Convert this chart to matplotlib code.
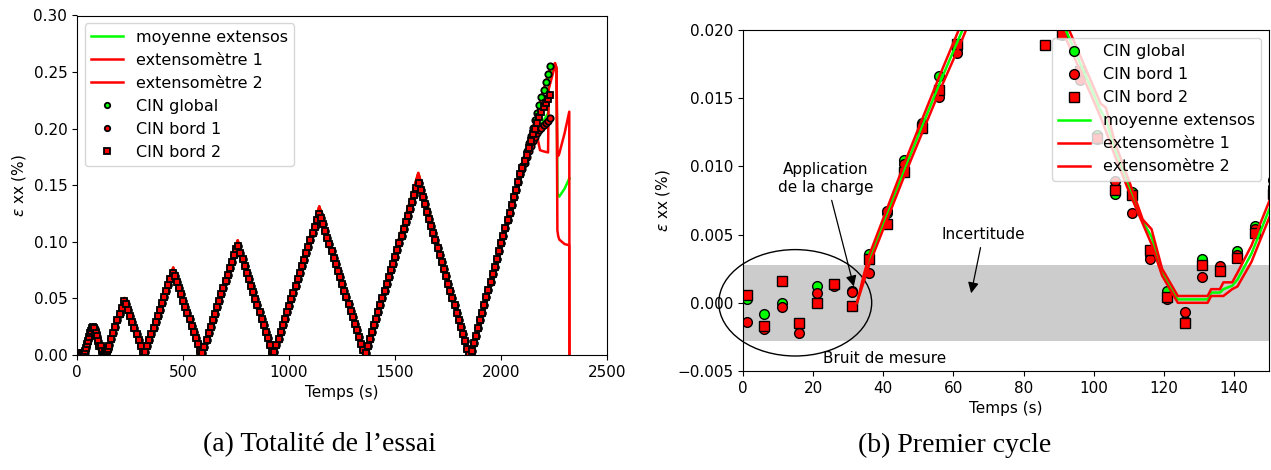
import numpy as np
import matplotlib
matplotlib.use("Agg")
import matplotlib.pyplot as plt
from matplotlib.patches import Ellipse

# --- CIN (correlation d'images), une image toutes les 5 s puis 10 s ---
# premier cycle (t = 1, 6, ..., 151 s)
cin_global_debut = [0.0003, -0.0008, 0.0000, -0.0016, 0.0012, 0.0013, 0.0009, 0.0036, 0.0066, 0.0105,
                    0.0132, 0.0166, 0.0186, 0.0217, 0.0240, 0.0250, 0.0244, 0.0229, 0.0199, 0.0168,
                    0.0123, 0.0080, 0.0081, 0.0035, 0.0009, -0.0013, 0.0032, 0.0025, 0.0038, 0.0056, 0.0090]
cin_bord1_debut = [-0.0014, -0.0019, -0.0003, -0.0022, 0.0007, 0.0012, 0.0008, 0.0022, 0.0067, 0.0102,
                   0.0130, 0.0151, 0.0183, 0.0214, 0.0238, 0.0248, 0.0242, 0.0227, 0.0196, 0.0163,
                   0.0120, 0.0089, 0.0066, 0.0032, 0.0003, -0.0007, 0.0019, 0.0027, 0.0035, 0.0054, 0.0085]
cin_bord2_debut = [0.0006, -0.0017, 0.0016, -0.0015, 0.0000, 0.0014, -0.0002, 0.0032, 0.0058, 0.0096,
                   0.0128, 0.0156, 0.0190, 0.0212, 0.0236, 0.0246, 0.0240, 0.0189, 0.0197, 0.0170,
                   0.0121, 0.0083, 0.0079, 0.0039, 0.0004, -0.0015, 0.0028, 0.0023, 0.0033, 0.0051, 0.0080]

# cycles suivants, identiques pour les trois mesures (t = 161, 171, ... s)
cin_commun = [0.0140, 0.0195, 0.0251, 0.0307, 0.0363, 0.0419, 0.0474, 0.0453, 0.0400, 0.0347,
              0.0293, 0.0240, 0.0187, 0.0134, 0.0080, 0.0027,
              0.0027, 0.0080, 0.0134, 0.0188, 0.0241, 0.0295, 0.0348, 0.0402, 0.0456, 0.0509,
              0.0563, 0.0616, 0.0670, 0.0724,
              0.0701, 0.0646, 0.0591, 0.0536, 0.0481, 0.0425, 0.0370, 0.0315, 0.0260, 0.0205,
              0.0149, 0.0094, 0.0039,
              0.0017, 0.0075, 0.0132, 0.0190, 0.0248, 0.0305, 0.0363, 0.0421, 0.0478, 0.0536,
              0.0593, 0.0651, 0.0709, 0.0766, 0.0824, 0.0881, 0.0939,
              0.0962, 0.0904, 0.0846, 0.0788, 0.0729, 0.0671, 0.0613, 0.0554, 0.0496, 0.0438,
              0.0380, 0.0321, 0.0263, 0.0205, 0.0146, 0.0088, 0.0030,
              0.0029, 0.0087, 0.0145, 0.0203, 0.0261, 0.0319, 0.0377, 0.0436, 0.0494, 0.0552,
              0.0610, 0.0668, 0.0726, 0.0784, 0.0842, 0.0900, 0.0958, 0.1016, 0.1074, 0.1132,
              0.1190, 0.1248,
              0.1213, 0.1155, 0.1096, 0.1037, 0.0979, 0.0920, 0.0861, 0.0803, 0.0744, 0.0686,
              0.0627, 0.0568, 0.0510, 0.0451, 0.0393, 0.0334, 0.0275, 0.0217, 0.0158, 0.0100,
              0.0041,
              0.0018, 0.0079, 0.0140, 0.0200, 0.0261, 0.0322, 0.0382, 0.0443, 0.0504, 0.0565,
              0.0625, 0.0686, 0.0747, 0.0807, 0.0868, 0.0929, 0.0989, 0.1050, 0.1111, 0.1172,
              0.1232, 0.1293, 0.1354, 0.1414, 0.1475,
              0.1524, 0.1460, 0.1396, 0.1332, 0.1268, 0.1205, 0.1141, 0.1077, 0.1013, 0.0949,
              0.0886, 0.0822, 0.0758, 0.0694, 0.0630, 0.0567, 0.0503, 0.0439, 0.0375, 0.0311,
              0.0248, 0.0184, 0.0120, 0.0056, 0.0000,
              0.0034, 0.0102, 0.0170, 0.0238, 0.0306, 0.0374, 0.0442, 0.0510, 0.0578, 0.0646,
              0.0714, 0.0782, 0.0850, 0.0918, 0.0986, 0.1054, 0.1122, 0.1190, 0.1258, 0.1326,
              0.1394, 0.1462, 0.1530, 0.1598]

# fin d'essai (t = 2101, ..., 2231 s)
cin_global_fin = [0.1666, 0.1734, 0.1802, 0.1870, 0.1938, 0.2006, 0.2074, 0.2142, 0.2210, 0.2278,
                  0.2346, 0.2414, 0.2482, 0.2550]
cin_bord1_fin = [0.1640, 0.1700, 0.1750, 0.1800, 0.1850, 0.1890, 0.1930, 0.1960, 0.1990, 0.2010,
                 0.2030, 0.2050, 0.2070, 0.2090]
cin_bord2_fin = [0.1650, 0.1710, 0.1770, 0.1830, 0.1890, 0.1950, 0.2000, 0.2050, 0.2100, 0.2150,
                 0.2190, 0.2230, 0.2260, 0.2300]

# --- extensometres ---
ext_t = [32.5, 34.5, 36, 46, 56, 62, 70, 76, 84, 91, 100, 102, 103.5, 106, 110, 114, 116.5, 119.5,
         124, 132.5, 133.5, 136, 137, 139.5, 141, 145, 150, 155,
         224, 316, 454, 588, 758, 926, 1143, 1358, 1610, 1852,
         2160, 2172, 2184, 2200, 2222, 2225, 2255, 2262, 2266, 2270, 2275, 2300, 2322, 2323]
ext1 = [0.0, 0.0021, 0.0035, 0.0102, 0.0166, 0.0203, 0.0248, 0.0265, 0.0250, 0.0212, 0.0158, 0.0146,
        0.0143, 0.0118, 0.0090, 0.0061, 0.0054, 0.0025, 0.0005, 0.0005, 0.0010, 0.0010, 0.0015, 0.0015,
        0.0022, 0.0042, 0.0074, 0.0102,
        0.0505, 0.0005, 0.0775, 0.0005, 0.1015, 0.0005, 0.1315, 0.0005, 0.1610, 0.0005,
        0.207, 0.215, 0.223, 0.234, 0.248, 0.250, 0.258, 0.254, 0.178, 0.176, 0.178, 0.196, 0.215, 0.0]
ext2 = [0.0, 0.0016, 0.0028, 0.0093, 0.0155, 0.0190, 0.0240, 0.0255, 0.0240, 0.0200, 0.0148, 0.0136,
        0.0126, 0.0108, 0.0082, 0.0058, 0.0043, 0.0020, 0.0, 0.0, 0.0005, 0.0005, 0.0005, 0.0010,
        0.0012, 0.0030, 0.0062, 0.0090,
        0.0497, 0.0, 0.0768, 0.0, 0.1008, 0.0, 0.1308, 0.0, 0.1602, 0.0,
        0.200, 0.192, 0.181, 0.180, 0.179, 0.235, 0.256, 0.252, 0.110, 0.105, 0.102, 0.098, 0.097, 0.0]
ext_moy = [0.0, 0.00185, 0.00315, 0.00975, 0.01605, 0.01965, 0.0244, 0.0260, 0.0245, 0.0206, 0.0153,
           0.0141, 0.01345, 0.0113, 0.0086, 0.00595, 0.00485, 0.00225, 0.00025, 0.00025, 0.00075,
           0.00075, 0.0010, 0.00125, 0.0017, 0.0036, 0.0068, 0.0096,
           0.0501, 0.00025, 0.07715, 0.00025, 0.10115, 0.00025, 0.13115, 0.00025, 0.1606, 0.00025,
           0.2035, 0.2035, 0.202, 0.207, 0.2135, 0.2425, 0.257, 0.253, 0.144, 0.1405, 0.140, 0.147,
           0.156, 0.156]

# temps des images CIN
t_debut = np.arange(1, 152, 5)
t_commun = np.arange(161, 161 + 10 * len(cin_commun), 10)
t_fin = np.arange(t_commun[-1] + 10, t_commun[-1] + 10 + 10 * len(cin_global_fin), 10)
t_cin = np.concatenate([t_debut, t_commun, t_fin])

cin_global = np.array(cin_global_debut + cin_commun + cin_global_fin)
cin_bord1 = np.array(cin_bord1_debut + cin_commun + cin_bord1_fin)
cin_bord2 = np.array(cin_bord2_debut + cin_commun + cin_bord2_fin)

VERT = "#00ff00"
ROUGE = "#ff0000"
FS = 11
FS_LEG = 11.5

fig = plt.figure(figsize=(12.71, 4.70), dpi=100)
W, H = 1271, 470

# ---------------- (a) Totalite de l'essai ----------------
ax1 = fig.add_axes([77 / W, (H - 355) / H, 530 / W, 339.5 / H])
ax1.plot(ext_t, ext_moy, color=VERT, lw=1.8, label="moyenne extensos")
ax1.plot(ext_t, ext1, color=ROUGE, lw=1.8, label="extensomètre 1")
ax1.plot(ext_t, ext2, color=ROUGE, lw=1.8, label="extensomètre 2")
ax1.plot(t_cin, cin_global, "o", color=VERT, mec="black", ms=4.6, mew=1.3, label="CIN global")
ax1.plot(t_cin, cin_bord1, "o", color=ROUGE, mec="black", ms=4.6, mew=1.3, label="CIN bord 1")
ax1.plot(t_cin, cin_bord2, "s", color=ROUGE, mec="black", ms=4.6, mew=1.3, label="CIN bord 2")
ax1.set_xlim(0, 2500)
ax1.set_ylim(0, 0.30)
ax1.set_xlabel("Temps (s)", fontsize=FS)
ax1.set_ylabel(r"$\varepsilon$ xx (%)", fontsize=FS)
ax1.tick_params(labelsize=FS)
ax1.legend(loc="upper left", fontsize=FS_LEG, markerscale=0.85)

# ---------------- (b) Premier cycle ----------------
ax2 = fig.add_axes([743 / W, (H - 371) / H, 526 / W, 341 / H])
ax2.axhspan(-0.0028, 0.0028, color="#cccccc", lw=0, zorder=0)
ax2.plot(t_cin, cin_global, "o", color=VERT, mec="black", ms=7, mew=1, label="CIN global")
ax2.plot(t_cin, cin_bord1, "o", color=ROUGE, mec="black", ms=7, mew=1, label="CIN bord 1")
ax2.plot(t_cin, cin_bord2, "s", color=ROUGE, mec="black", ms=7, mew=1, label="CIN bord 2")
ax2.plot(ext_t, ext_moy, color=VERT, lw=1.8, label="moyenne extensos")
ax2.plot(ext_t, ext1, color=ROUGE, lw=1.8, label="extensomètre 1")
ax2.plot(ext_t, ext2, color=ROUGE, lw=1.8, label="extensomètre 2")
ax2.set_xlim(0, 150)
ax2.set_ylim(-0.005, 0.020)
ax2.set_yticks([-0.005, 0.0, 0.005, 0.010, 0.015, 0.020])
ax2.set_xlabel("Temps (s)", fontsize=FS)
ax2.set_ylabel(r"$\varepsilon$ xx (%)", fontsize=FS)
ax2.tick_params(labelsize=FS)
ax2.legend(loc="upper right", fontsize=FS_LEG)

ax2.add_patch(Ellipse((14.9, 0.0), 43.6, 0.0078, fill=False, ec="black", lw=1, clip_on=False))
fleche = dict(arrowstyle="-|>", color="black", lw=0.9, mutation_scale=16)
ax2.annotate("Application\nde la charge", xy=(31.8, 0.0010), xytext=(23.7, 0.0091),
             ha="center", va="center", fontsize=FS, arrowprops=fleche)
ax2.annotate("Incertitude", xy=(64.9, 0.0005), xytext=(68.5, 0.0050),
             ha="center", va="center", fontsize=FS, arrowprops=fleche)
ax2.text(40.4, -0.0041, "Bruit de mesure", ha="center", va="center", fontsize=FS)

# legendes des sous-figures
fig.text(320 / W, 1 - 445 / H, "(a) Totalité de l’essai", ha="center", va="center",
         fontsize=20, family="Liberation Serif")
fig.text(955 / W, 1 - 445 / H, "(b) Premier cycle", ha="center", va="center",
         fontsize=20, family="Liberation Serif")

fig.savefig("out.png", dpi=100)
